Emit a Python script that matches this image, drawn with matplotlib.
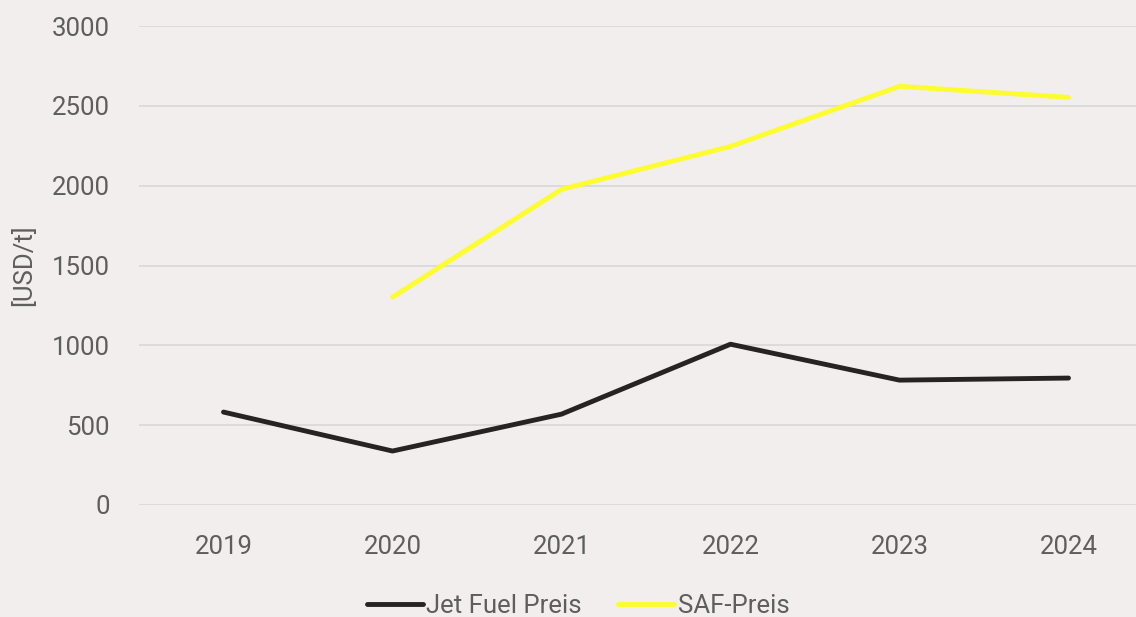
import matplotlib
matplotlib.use("Agg")
import matplotlib.pyplot as plt
import numpy as np

years = ["2019", "2020", "2021", "2022", "2023", "2024"]
jet_fuel = [582, 338, 569, 1007, 782, 795]
saf = [np.nan, 1302, 1977, 2246, 2622, 2553]
y_ticks = [0, 500, 1000, 1500, 2000, 2500, 3000]

BG = "#f1eeed"
TEXT = "#5e5e5e"
GRID = "#d9d9d9"
FS = 18.5

plt.rcParams["font.family"] = ["Roboto", "DejaVu Sans"]

fig = plt.figure(figsize=(11.36, 6.17), dpi=100, facecolor=BG)
W, H = 1136, 617
left, right = 139, 1153
top, bottom = 26, 505
ax = fig.add_axes([left / W, 1 - bottom / H, (right - left) / W, (bottom - top) / H])
ax.set_facecolor(BG)

x = np.arange(len(years))
ax.plot(x, jet_fuel, color="#262322", lw=3.5, solid_capstyle="round",
        solid_joinstyle="round", label="Jet Fuel Preis", zorder=3)
ax.plot(x, saf, color="#fcfc2f", lw=3.5, solid_capstyle="round",
        solid_joinstyle="round", label="SAF-Preis", zorder=3)

ax.set_xlim(-0.5, len(years) - 0.5)
ax.set_ylim(0, 3000)
ax.set_xticks(x)
ax.set_xticklabels(years)
ax.set_yticks(y_ticks)
ax.set_yticklabels([str(v) for v in y_ticks])
ax.yaxis.grid(True, color=GRID, lw=1.3)
ax.set_axisbelow(True)
for s in ax.spines.values():
    s.set_visible(False)
ax.tick_params(axis="both", length=0, colors=TEXT, labelsize=FS)
ax.tick_params(axis="y", pad=21)
ax.tick_params(axis="x", pad=21.5)

fig.text(24 / W, 1 - 265 / H, "[USD/t]", rotation=90, ha="center", va="center",
         color=TEXT, fontsize=FS)

leg = fig.legend(loc="center", bbox_to_anchor=(578 / W, 1 - 606 / H), ncol=2,
                 frameon=False, fontsize=FS, handlelength=2.2, handletextpad=0.12,
                 columnspacing=1.4)
for t in leg.get_texts():
    t.set_color(TEXT)

fig.savefig("out.png", dpi=100, facecolor=BG)
